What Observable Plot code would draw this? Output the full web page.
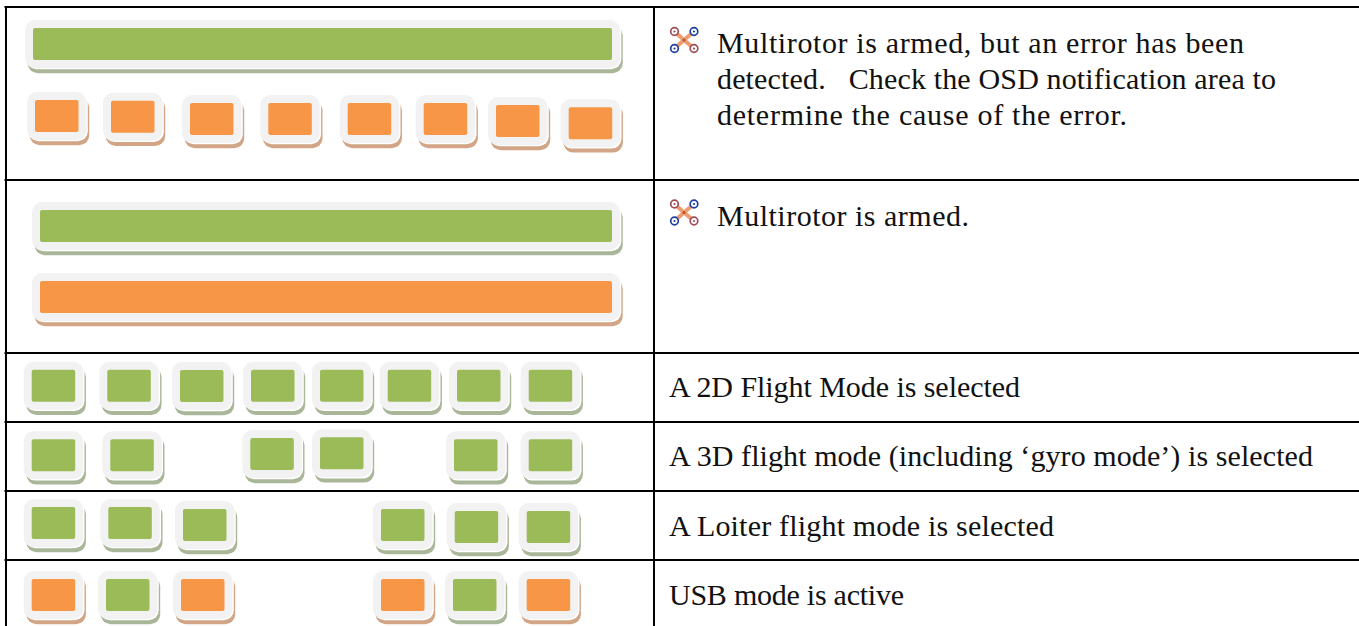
<!DOCTYPE html>
<html>
<head>
<meta charset="utf-8">
<style>html,body{margin:0;padding:0;background:#fff;overflow:hidden}svg{display:block}</style>
<script src="https://cdn.jsdelivr.net/npm/d3@7"></script>
<script src="https://cdn.jsdelivr.net/npm/@observablehq/plot@0.6"></script>
</head>
<body>
<div id="chart"></div>
<script>
// LED block positions (left, top of the coloured area)
const ledLeft  = [35,111,190,268.3,347.7,423.7,496,568.7,
                  31.7,107.3,180,251,320,387.7,457,528.7,
                  31.7,110.3,250.3,320,454,528.7,
                  31.7,108.3,183,381,454.7,526.7,
                  31.7,106,181,381,453,526.7];
const ledTop   = [100,100.7,103,103,103,103,105,107.3,
                  369.7,369.7,370,369.7,369.7,369.7,369.7,369.7,
                  439.3,439.3,438,437.3,439.3,439.3,
                  507,507,509,509,511,511,
                  579,579,579,579,579,579];
const ledState = ["o","o","o","o","o","o","o","o",
                  "g","g","g","g","g","g","g","g",
                  "g","g","g","g","g","g",
                  "g","g","g","g","g","g",
                  "o","g","o","o","g","o"];
const ledWidth = 43.5;
const ledHeight = 32;

const barLeft  = [33,40,40];
const barRight = [612,612,612];
const barTop   = [28,210,281];
const barState = ["g","g","o"];

const rowLines = [6.5,179.5,352.5,421.5,490.5,559.5];
const leftEdge = 5.5, splitX = 653.5;

const textLines = [
  "Multirotor is armed, but an error has been",
  "detected.   Check the OSD notification area to",
  "determine the cause of the error.",
  "Multirotor is armed.",
  "A 2D Flight Mode is selected",
  "A 3D flight mode (including ‘gyro mode’) is selected",
  "A Loiter flight mode is selected",
  "USB mode is active"];
const textX = [716.5,716.5,716.5,716.5,668.5,668.5,668.5,668.5];
const textY = [52,88,124,225,396.5,465.5,535,604.5];
const textWidth = [527,559,410,252,351,644,385,235];

const droneX = [683.5,683.5];
const droneY = [39.5,212];

const GREEN="#9bbb59", ORANGE="#f79646", FRAME="#f2f2f2";
const SHADOW={g:"#a9b698",o:"#d1a585"};
const FILL={g:GREEN,o:ORANGE};

const blocks = ledLeft.map((x,i)=>({x1:x,x2:x+ledWidth,y1:ledTop[i],y2:ledTop[i]+ledHeight,s:ledState[i]}))
  .concat(barLeft.map((x,i)=>({x1:x,x2:barRight[i],y1:barTop[i],y2:barTop[i]+ledHeight,s:barState[i]})));
const lines = textLines.map((t,i)=>({t,x:textX[i],y:textY[i]}));

const layer=(dx1,dy1,dx2,dy2,fill,rx)=>Plot.rect(blocks,{
  x1:d=>d.x1+dx1,x2:d=>d.x2+dx2,y1:d=>d.y1+dy1,y2:d=>d.y2+dy2,fill,rx});

const arms=[[-9.5,-8.5],[10,-8.5],[-9.5,8.5],[10,8.5]];
const rotorRed=[0,3];
const rotors=droneX.flatMap((cx,k)=>arms.map((a,i)=>({x:cx+a[0],y:droneY[k]+a[1],c:rotorRed.includes(i)?"#a04c55":"#1f3f9f"})));
const armLinks=droneX.flatMap((cx,k)=>arms.map(a=>({x1:cx,y1:droneY[k],x2:cx+a[0],y2:droneY[k]+a[1]})));

const chart=Plot.plot({
  width:1359,height:626,margin:0,
  style:{background:"#fff"},
  x:{axis:null,domain:[0,1359],range:[0,1359]},
  y:{axis:null,domain:[0,626],range:[0,626]},
  marks:[
    layer(-5.3,-2.7,10.7,13.3,d=>SHADOW[d.s],10),
    layer(-6.5,-6.5,9.3,9.3,"#fff",10),
    layer(-8,-8,8,8,FRAME,10),
    layer(0,0,0,0,d=>FILL[d.s],2),
    Plot.ruleY(rowLines,{x1:leftEdge-1,x2:1359,stroke:"#000",strokeWidth:2}),
    Plot.ruleX([leftEdge,splitX],{y1:6,y2:626,stroke:"#000",strokeWidth:2}),
    Plot.link(armLinks,{x1:"x1",y1:"y1",x2:"x2",y2:"y2",stroke:"#ee9d70",strokeWidth:4}),
    Plot.dot(droneX.map((x,i)=>({x,y:droneY[i]})),{x:"x",y:"y",r:1.6,fill:"#b5562f"}),
    Plot.dot(rotors,{x:"x",y:"y",r:3.8,fill:"#fff",stroke:"c",strokeWidth:1.7}),
    Plot.dot(rotors,{x:"x",y:"y",r:1.1,fill:"c"}),
    Plot.text(lines,{x:"x",y:"y",text:"t",textAnchor:"start",lineAnchor:"bottom",
      fontFamily:"Liberation Serif",fontSize:30,fill:"#111",className:"row-text"})
  ]
});
d3.select(chart).selectAll("g.row-text text, .row-text text")
  .each(function(d,i){ this.setAttribute("textLength",textWidth[i]); this.setAttribute("lengthAdjust","spacing"); });
document.getElementById("chart").appendChild(chart);
</script>
</body>
</html>
